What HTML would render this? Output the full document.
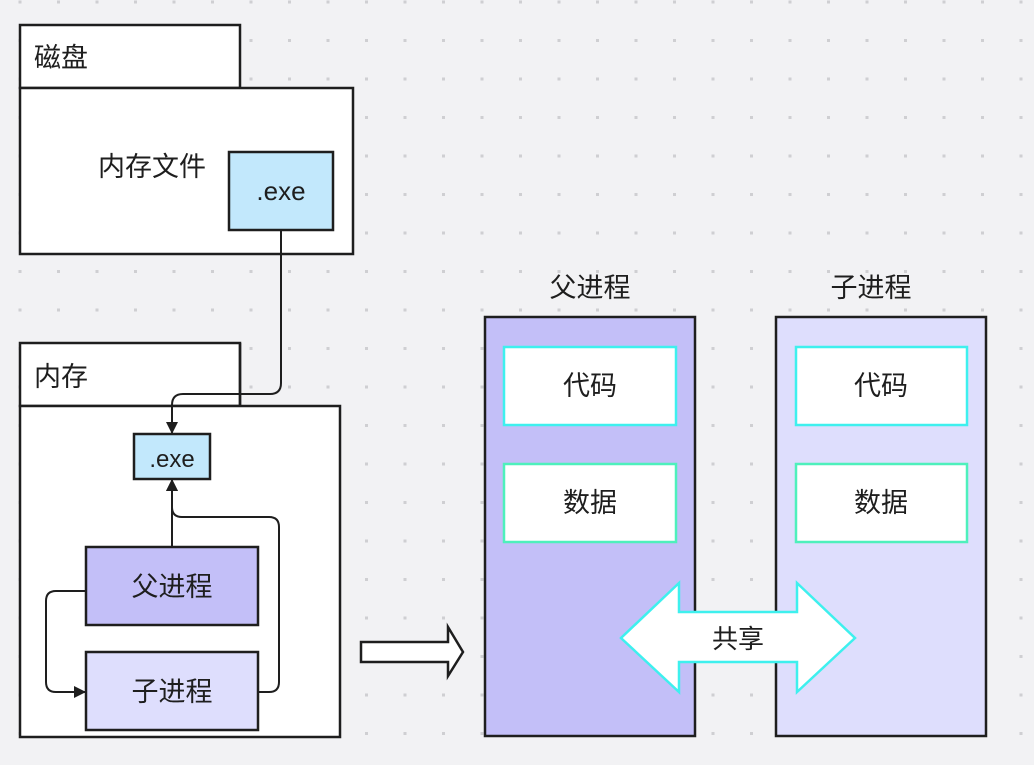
<!DOCTYPE html>
<html><head><meta charset="utf-8"><style>
html,body{margin:0;padding:0;background:#f2f2f4;}
svg{display:block;}
text{font-family:"Liberation Sans","Noto Sans CJK SC",sans-serif;fill:#1e1e1e;}
</style></head><body>
<svg width="1034" height="765" viewBox="0 0 1034 765" xmlns="http://www.w3.org/2000/svg">
<defs>
<pattern id="dots" x="18.5" y="0.5" width="38.5" height="38.5" patternUnits="userSpaceOnUse">
<rect x="0" y="0" width="3" height="3" fill="#cfcfd2"/>
</pattern>
<marker id="ah" markerWidth="12" markerHeight="12" refX="11" refY="6" orient="auto" markerUnits="userSpaceOnUse">
<path d="M0,0 L12,6 L0,12 z" fill="#1e1e1e"/>
</marker>
</defs>
<rect width="1034" height="765" fill="#f2f2f4"/>
<rect width="1034" height="765" fill="url(#dots)"/>

<!-- disk -->
<rect x="20" y="25" width="220" height="63" fill="#fff" stroke="#1e1e1e" stroke-width="2.5"/>
<rect x="20" y="88" width="333" height="166" fill="#fff" stroke="#1e1e1e" stroke-width="2.5"/>
<text x="34" y="67" font-size="27">磁盘</text>
<text x="98" y="176" font-size="27">内存文件</text>
<rect x="229" y="152" width="104" height="78" fill="#c2e8fc" stroke="#1e1e1e" stroke-width="2.5"/>
<text x="281" y="200" font-size="26" text-anchor="middle">.exe</text>

<!-- memory -->
<rect x="20" y="343" width="220" height="63" fill="#fff" stroke="#1e1e1e" stroke-width="2.5"/>
<rect x="20" y="406" width="320" height="331" fill="#fff" stroke="#1e1e1e" stroke-width="2.5"/>
<line x1="240" y1="343" x2="240" y2="406" stroke="#1e1e1e" stroke-width="2.5"/>
<text x="34" y="386" font-size="27">内存</text>
<rect x="134" y="434" width="76" height="45" fill="#c2e8fc" stroke="#1e1e1e" stroke-width="2.5"/>
<text x="172" y="467" font-size="24" text-anchor="middle">.exe</text>
<rect x="86" y="547" width="172" height="78" fill="#c3bff8" stroke="#1e1e1e" stroke-width="2.5"/>
<text x="172" y="596" font-size="27" text-anchor="middle">父进程</text>
<rect x="86" y="652" width="172" height="78" fill="#dedefd" stroke="#1e1e1e" stroke-width="2.5"/>
<text x="172" y="701" font-size="27" text-anchor="middle">子进程</text>

<!-- connectors -->
<g fill="none" stroke="#1e1e1e" stroke-width="2">
<path d="M281,230 V383 Q281,394 270,394 H183 Q172,394 172,405 V433" marker-end="url(#ah)"/>
<path d="M172,547 V480" marker-end="url(#ah)"/>
<path d="M258,692 H269 Q279,692 279,682 V527 Q279,517 269,517 H182 Q172,517 172,507 V480" marker-end="url(#ah)"/>
<path d="M86,591 H56 Q46,591 46,601 V682 Q46,692 56,692 H85" marker-end="url(#ah)"/>
</g>

<!-- big arrow -->
<path d="M361,642 H448 V627 L463,652 L448,676 V662 H361 Z" fill="#fff" stroke="#1e1e1e" stroke-width="2.5" stroke-linejoin="miter"/>

<!-- right columns -->
<text x="590" y="297" font-size="27" text-anchor="middle">父进程</text>
<text x="871" y="297" font-size="27" text-anchor="middle">子进程</text>
<rect x="485" y="317" width="210" height="419" fill="#c3bff8" stroke="#1e1e1e" stroke-width="2.5"/>
<rect x="776" y="317" width="210" height="419" fill="#dedefd" stroke="#1e1e1e" stroke-width="2.5"/>
<rect x="504" y="347" width="172" height="78" fill="#fff" stroke="#3ef0ee" stroke-width="2.5"/>
<rect x="504" y="464" width="172" height="78" fill="#fff" stroke="#4ef0bc" stroke-width="2.5"/>
<rect x="796" y="347" width="171" height="78" fill="#fff" stroke="#3ef0ee" stroke-width="2.5"/>
<rect x="796" y="464" width="171" height="78" fill="#fff" stroke="#4ef0bc" stroke-width="2.5"/>
<text x="590" y="395" font-size="27" text-anchor="middle">代码</text>
<text x="590" y="512" font-size="27" text-anchor="middle">数据</text>
<text x="881" y="395" font-size="27" text-anchor="middle">代码</text>
<text x="881" y="512" font-size="27" text-anchor="middle">数据</text>

<!-- shared double arrow -->
<path d="M621,638 L679,583 V612 H797 V583 L855,638 L797,692 V662 H679 V692 Z" fill="#fff" stroke="#3ef0ee" stroke-width="2.5"/>
<text x="738" y="648" font-size="26" text-anchor="middle">共享</text>
</svg>
</body></html>
